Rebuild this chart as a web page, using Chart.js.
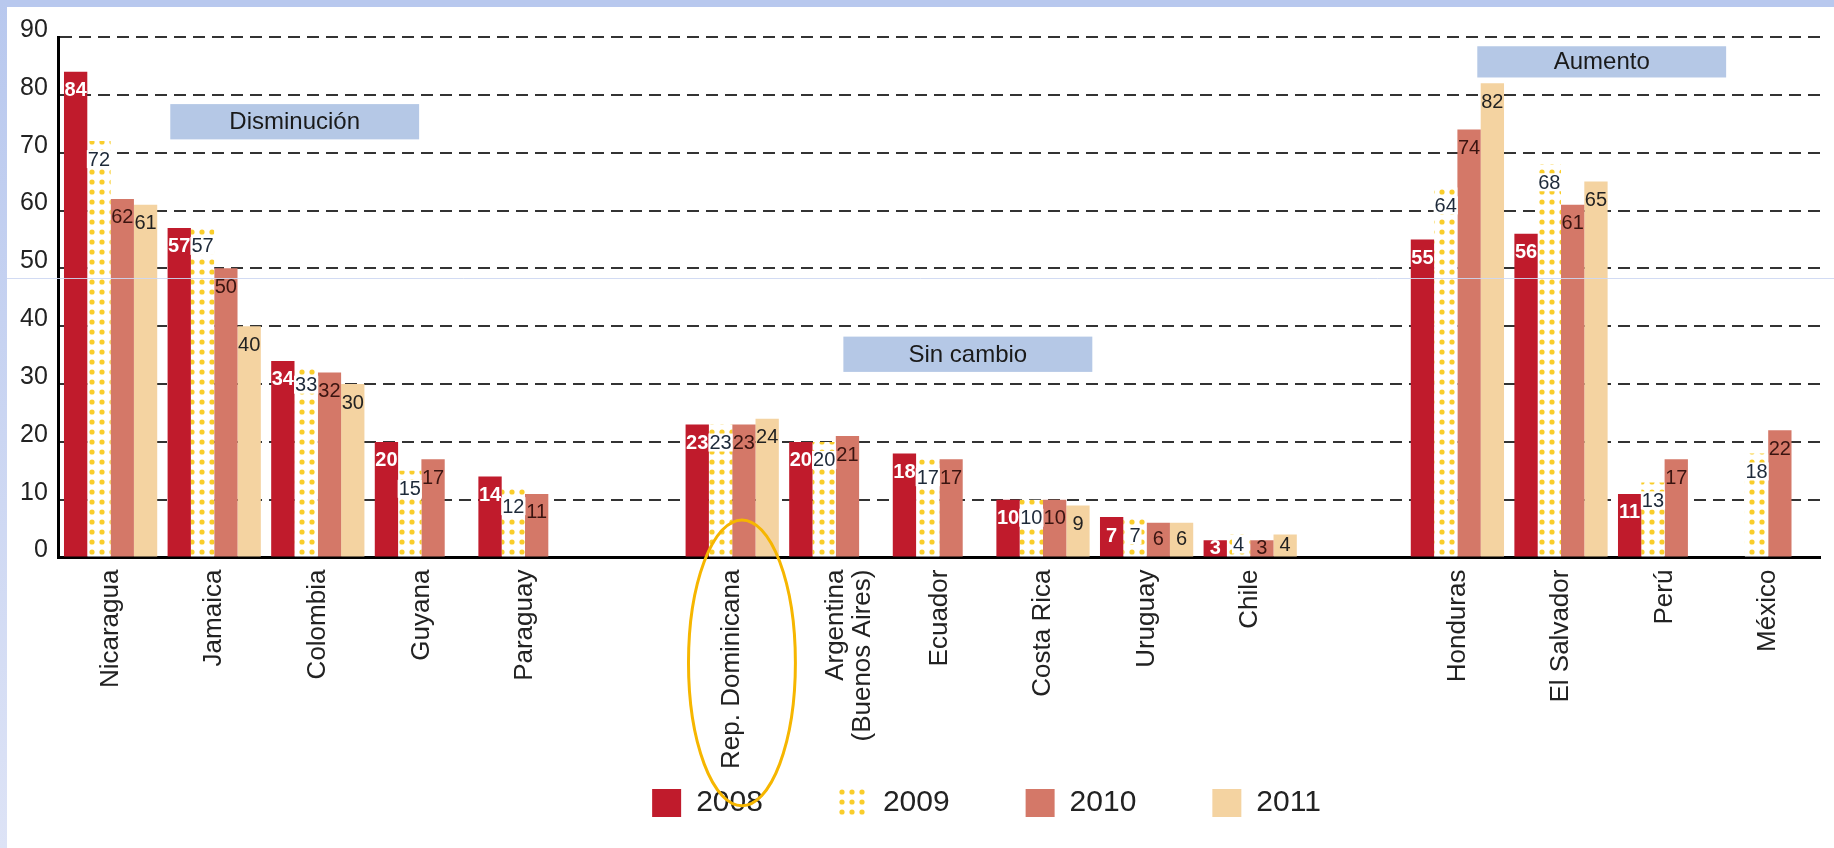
<!DOCTYPE html>
<html>
<head>
<meta charset="utf-8">
<script src="https://cdn.jsdelivr.net/npm/chart.js@4.4.0/dist/chart.umd.min.js"></script>
<style>
  html, body { margin: 0; padding: 0; width: 1834px; height: 848px; overflow: hidden; background: #ffffff; }
  #topband { position: absolute; left: 0; top: 0; width: 1834px; height: 7px; background: #b8c8ee; }
  #leftband { position: absolute; left: 0; top: 0; width: 7px; height: 848px; background: linear-gradient(#b8c8ee, #dde3f6); }
  #wrap { position: absolute; left: 7px; top: 7px; width: 1827px; height: 841px; }
</style>
</head>
<body>
<div id="topband"></div>
<div id="leftband"></div>
<div id="wrap"><canvas id="chart" width="1827" height="841"></canvas></div>
<script>
// ---------- data ----------
const categories = [
  'Nicaragua', 'Jamaica', 'Colombia', 'Guyana', 'Paraguay', '',
  'Rep. Dominicana', ['Argentina', '(Buenos Aires)'], 'Ecuador', 'Costa Rica', 'Uruguay', 'Chile', '',
  'Honduras', 'El Salvador', 'Perú', 'México'
];
const years = ['2008', '2009', '2010', '2011'];
const values2008 = [84, 57, 34, 20, 14, null, 23, 20, 18, 10, 7, 3, null, 55, 56, 11, null];
const values2009 = [72, 57, 33, 15, 12, null, 23, 20, 17, 10, 7, 4, null, 64, 68, 13, 18];
const values2010 = [62, 50, 32, 17, 11, null, 23, 21, 17, 10, 6, 3, null, 74, 61, 17, 22];
const values2011 = [61, 40, 30, null, null, null, 24, null, null, 9, 6, 4, null, 82, 65, null, null];
const yTicks = [0, 10, 20, 30, 40, 50, 60, 70, 80, 90];
const groupNotes = ['Disminución', 'Sin cambio', 'Aumento'];

// ---------- styling / placement (not data) ----------
const FONT = "'Liberation Sans', Arial, Helvetica, sans-serif";
const notePlacement = [
  { x0: 0.576, x1: 2.978, y0: 72.3, y1: 78.4 },
  { x0: 7.073, x1: 9.476, y0: 32.1, y1: 38.2 },
  { x0: 13.192, x1: 15.594, y0: 83.0, y1: 88.4 }
];
const LEGEND_TOP = 705;     // canvas px, top of legend block
const LEGEND_SHIFT = 72;    // horizontal offset of the legend row

function dotPattern() {
  const c = document.createElement('canvas');
  c.width = 10; c.height = 10;
  const g = c.getContext('2d');
  g.fillStyle = '#ffffff';
  g.fillRect(0, 0, 10, 10);
  g.fillStyle = '#f9cd2c';
  g.beginPath();
  g.arc(5, 5, 2.6, 0, Math.PI * 2);
  g.fill();
  return g.createPattern(c, 'repeat');
}
const ctx = document.getElementById('chart').getContext('2d');
const pattern2009 = dotPattern();

const seriesColors = ['#c01b2c', pattern2009, '#d47868', '#f4d3a1'];
const labelStyles = [
  { font: 'bold 20px ' + FONT, color: '#ffffff', bg: null },
  { font: '20px ' + FONT, color: '#1e2a3a', bg: '#ffffff' },
  { font: '20px ' + FONT, color: '#3a1410', bg: null },
  { font: '20px ' + FONT, color: '#222222', bg: null }
];

const seriesValues = [values2008, values2009, values2010, values2011];

const valueLabels = {
  id: 'valueLabels',
  afterDatasetsDraw(chart) {
    const c = chart.ctx;
    chart.data.datasets.forEach((ds, di) => {
      const meta = chart.getDatasetMeta(di);
      const st = labelStyles[di];
      meta.data.forEach((bar, i) => {
        const v = ds.data[i];
        if (v === null || v === undefined) return;
        const txt = String(v);
        const x = bar.x;
        const y = Math.min(bar.y + 18, (bar.y + bar.base) / 2 - 1);
        c.save();
        c.font = st.font;
        c.textAlign = 'center';
        c.textBaseline = 'middle';
        if (st.bg) {
          const w = c.measureText(txt).width;
          c.fillStyle = st.bg;
          c.fillRect(x - w / 2 - 1, y - 9, w + 2, 18);
        }
        c.fillStyle = st.color;
        c.fillText(txt, x, y + 1);
        c.restore();
      });
    });
  }
};

const groupBoxes = {
  id: 'groupBoxes',
  beforeDatasetsDraw(chart) {
    const c = chart.ctx;
    const xs = chart.scales.x, ys = chart.scales.y;
    groupNotes.forEach((t, k) => {
      const p = notePlacement[k];
      const l = xs.getPixelForValue(p.x0), r = xs.getPixelForValue(p.x1);
      const top = ys.getPixelForValue(p.y1), bot = ys.getPixelForValue(p.y0);
      c.save();
      c.fillStyle = '#b5c8e6';
      c.fillRect(l, top, r - l, bot - top);
      c.font = '24px ' + FONT;
      c.fillStyle = '#1a1a1a';
      c.textAlign = 'center';
      c.textBaseline = 'middle';
      c.fillText(t, (l + r) / 2, (top + bot) / 2 + 1);
      c.restore();
    });
  }
};

const overlay = {
  id: 'overlay',
  afterLayout(chart) {
    const lg = chart.legend;
    if (lg) {
      lg.left += LEGEND_SHIFT; lg.right += LEGEND_SHIFT;
      lg.top = LEGEND_TOP; lg.bottom = chart.height; lg.height = chart.height - LEGEND_TOP;
    }
  },
  afterDraw(chart) {
    const c = chart.ctx;
    const xs = chart.scales.x, ys = chart.scales.y;
    // faint scan line
    const ly = Math.round(ys.getPixelForValue(48.4)) + 0.5;
    c.save();
    c.strokeStyle = 'rgba(205,215,242,0.9)';
    c.lineWidth = 1;
    c.beginPath(); c.moveTo(0, ly); c.lineTo(chart.width, ly); c.stroke();
    // highlight ellipse around Rep. Dominicana
    const cx = xs.getPixelForValue(6.094);
    const rx = xs.getPixelForValue(6.61) - cx;
    const top = ys.getPixelForValue(6.5), bot = ys.getPixelForValue(-42.9);
    c.strokeStyle = '#f6b600';
    c.lineWidth = 3;
    c.beginPath();
    c.ellipse(cx, (top + bot) / 2, rx, (bot - top) / 2, 0, 0, Math.PI * 2);
    c.stroke();
    c.restore();
  }
};

new Chart(ctx, {
  type: 'bar',
  data: {
    labels: categories,
    datasets: years.map((y, i) => ({
      label: y,
      data: seriesValues[i],
      backgroundColor: seriesColors[i],
      borderWidth: 0,
      categoryPercentage: 0.9,
      barPercentage: 1.0
    }))
  },
  options: {
    responsive: false,
    animation: false,
    devicePixelRatio: 1,
    layout: { padding: { left: 2, right: 14, top: 30, bottom: 27 } },
    scales: {
      x: {
        grid: { display: false, drawTicks: false },
        border: { display: true, color: '#000000', width: 3 },
        ticks: {
          autoSkip: false, minRotation: 90, maxRotation: 90, padding: 12,
          color: '#222222', font: { family: FONT, size: 26, lineHeight: 1.03 }
        }
      },
      y: {
        min: 0, max: 90,
        afterBuildTicks(scale) { scale.ticks = yTicks.map(v => ({ value: v })); },
        grid: { color: '#333333', lineWidth: 2, drawTicks: false },
        border: { display: true, color: '#000000', width: 3, dash: [12, 7] },
        ticks: { padding: 11, labelOffset: -7, color: '#222222', font: { family: FONT, size: 25 } }
      }
    },
    plugins: {
      legend: {
        position: 'bottom',
        maxHeight: 40,
        labels: {
          boxWidth: 29, boxHeight: 28, padding: 76,
          color: '#222222', font: { family: FONT, size: 30 }
        }
      },
      tooltip: { enabled: false }
    }
  },
  plugins: [groupBoxes, valueLabels, overlay]
});
</script>
</body>
</html>
